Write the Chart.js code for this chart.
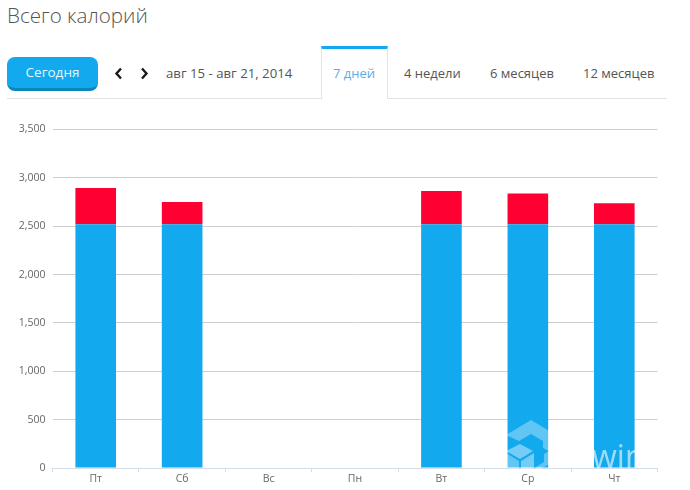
<!DOCTYPE html>
<html lang="ru"><head><meta charset="utf-8">
<script src="https://cdn.jsdelivr.net/npm/chart.js@4"></script>
<style>
html,body{margin:0;padding:0;background:#fff;width:690px;height:490px;overflow:hidden;font-family:"Open Sans",sans-serif}
.t{position:absolute;white-space:nowrap;line-height:1}
#title{left:7px;top:5px;font-size:20.6px;font-weight:300;color:#555}
#today{position:absolute;left:7px;top:57px;width:91px;height:34px;box-sizing:border-box;border-radius:8px;background:#12a9ee;border-bottom:3px solid #0b86bd;color:#e8f6fd;font-size:13.5px;font-weight:500;text-align:center;line-height:31px}
.arrow{position:absolute;top:67px;width:9px;height:13px}
#date{left:166px;top:67px;font-size:13.2px;color:#555}
.tab{top:67px;font-size:13px;color:#555}
#line1{position:absolute;left:7px;top:98px;width:314px;height:1px;background:#e3e3e3}
#line2{position:absolute;left:387px;top:98px;width:280px;height:1px;background:#e3e3e3}
#active{position:absolute;left:321px;top:46px;width:67px;height:53px;box-sizing:border-box;border-top:3px solid #12a9ee;border-left:1px solid #e3e3e3;border-right:1px solid #e3e3e3;background:#fff}
#wrap{position:absolute;left:0;top:111px;width:690px;height:379px}
#mark{position:absolute;left:506px;top:420px;width:50px;height:58px;opacity:.42}
#win{left:592px;top:440px;font-size:32px;color:#fff;opacity:.6;font-family:"Open Sans",sans-serif}
</style></head><body>
<div class="t" id="title">Всего калорий</div>
<div id="today">Сегодня</div>
<svg class="arrow" style="left:114px" viewBox="0 0 9 13"><path d="M7 1.5 2.5 6.5 7 11.5" fill="none" stroke="#1a1a1a" stroke-width="2.4"/></svg>
<svg class="arrow" style="left:140px" viewBox="0 0 9 13"><path d="M2 1.5 6.5 6.5 2 11.5" fill="none" stroke="#1a1a1a" stroke-width="2.4"/></svg>
<div class="t" id="date">авг 15 - авг 21, 2014</div>
<div id="line1"></div><div id="line2"></div><div id="active"></div>
<div class="t tab" style="left:333px;color:#5aaee8">7 дней</div>
<div class="t tab" style="left:404px">4 недели</div>
<div class="t tab" style="left:490px">6 месяцев</div>
<div class="t tab" style="left:583px">12 месяцев</div>
<div id="wrap"><canvas id="c" width="690" height="379"></canvas></div>
<svg id="mark" viewBox="0 0 50 58"><path d="M25 0 50 15 50 35 37 28 37 21 25 14 13 21 0 15Z" fill="#fff" opacity=".8"/><path d="M14 24 27 31 14 39 0 31Z" fill="#fff"/><path d="M0 33 13 41 13 55 0 47Z" fill="#fff" opacity=".8"/><path d="M15 41 28 33 28 47 15 55Z" fill="#fff"/><path d="M30 47 38 42 38 34 50 27 50 40 30 52Z" fill="#fff" opacity=".8"/></svg>
<div class="t" id="win">win</div>
<script>
const categories = ["Пт","Сб","Вс","Пн","Вт","Ср","Чт"];
const baseCalories = [2520,2520,null,null,2520,2520,2520];
const extraCalories = [375,230,null,null,345,318,218];
const yMax = 3500, yStep = 500;
new Chart(document.getElementById('c'),{
  type:'bar',
  data:{labels:categories,datasets:[
    {data:baseCalories,backgroundColor:'#12a9ee',barPercentage:.47,categoryPercentage:1,borderWidth:0},
    {data:extraCalories,backgroundColor:'#ff0033',barPercentage:.47,categoryPercentage:1,borderWidth:0}
  ]},
  options:{
    responsive:false,animation:false,
    layout:{padding:{left:0,right:32.5,top:18.5,bottom:0}},
    plugins:{legend:{display:false},tooltip:{enabled:false}},
    scales:{
      x:{stacked:true,
        grid:{drawOnChartArea:false,drawTicks:true,tickLength:4,color:'#d3dde8'},
        border:{color:'#d3dde8'},
        ticks:{color:'#666',font:{family:'"Open Sans"',size:10.5},padding:1,maxRotation:0},
        afterFit(a){a.height=22}},
      y:{stacked:true,min:0,max:yMax,
        grid:{color:'#cfcfcf',lineWidth:1,drawTicks:false},
        border:{display:false},
        ticks:{stepSize:yStep,color:'#666',font:{family:'"Open Sans"',size:10.5},padding:7,
          callback:v=>v.toLocaleString('en-US')},
        afterFit(a){a.width=52.5}}
    }
  }
});
</script></body></html>
